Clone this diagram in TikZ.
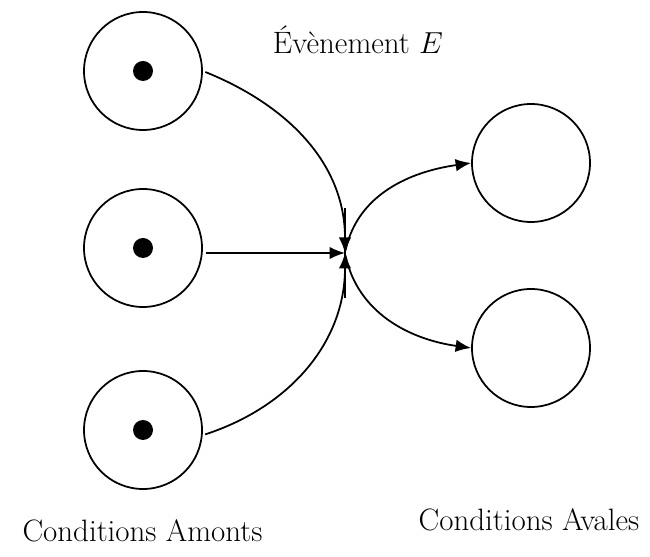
\documentclass[tikz,border=0pt]{standalone}
\usetikzlibrary{arrows.meta}

\tikzset{
	place/.style={draw,circle,line width=1pt,minimum size=2.36cm,inner sep=0pt},
	token/.style={fill,circle,minimum size=0.4cm,inner sep=0pt},
	arc/.style={line width=1pt,shorten <=1.5pt,-{Latex[length=3.1mm,width=2.5mm]}},
	label/.style={inner sep=0pt,font=\fontsize{17.6}{21}\selectfont}
}

\begin{document}
\begin{tikzpicture}
		\useasboundingbox (0,0) rectangle (13,11.12);

		% places amont
		\node[place] (p1) at (2.86,9.7) {};
		\node[place] (p2) at (2.86,6.16) {};
		\node[place] (p3) at (2.86,2.52) {};
		\node[token] (j1) at (p1) {};
		\node[token] (j2) at (p2) {};
		\node[token] (j3) at (p3) {};

		% places aval
		\node[place] (q1) at (10.62,7.86) {};
		\node[place] (q2) at (10.62,4.16) {};

		% transition
		\coordinate (t) at (6.9,6.06);
		\coordinate (tup) at (6.9,6.96);
		\coordinate (tdown) at (6.9,5.16);
		\draw[line width=1pt] (tup) -- (tdown);

		% arcs
		\draw[arc] (p1.east) to [out=-22,in=90] (t);
		\draw[arc] (p2.east |- t) -- (t);
		\draw[arc] (p3.-5) to [out=18,in=270] (t);
		\draw[arc] (t) to [out=78,in=188] (q1.west);
		\draw[arc] (t) to [out=-78,in=172] (q2.west);

		% textes
		\node[label] (ev) at (7.16,10.32) {Évènement $E$};
		\node[label] (am) at (2.85,0.5) {Conditions Amonts};
		\node[label] (av) at (10.58,0.72) {Conditions Avales};
\end{tikzpicture}
\end{document}
